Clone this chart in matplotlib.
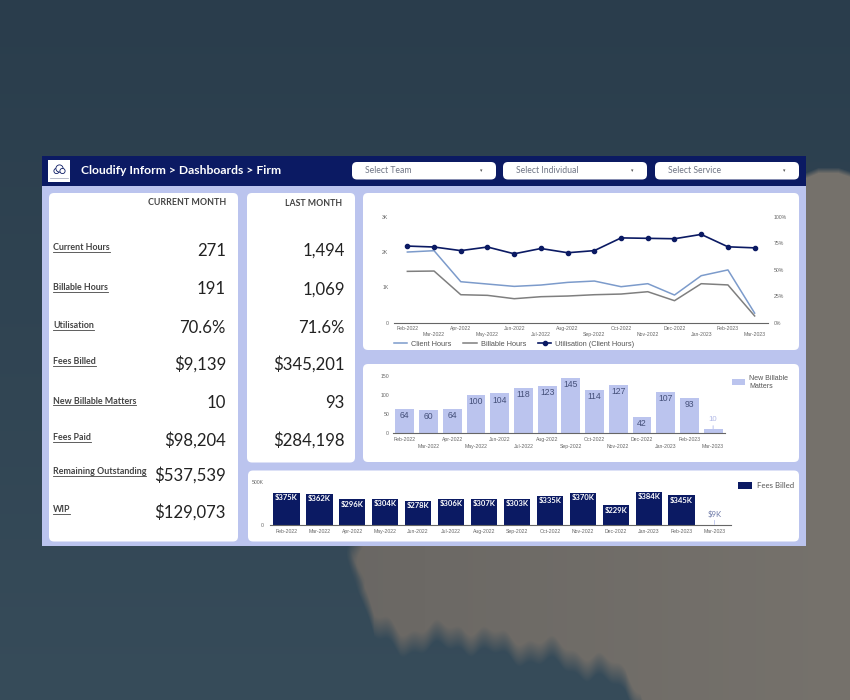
import numpy as np
import matplotlib
matplotlib.use("Agg")
import matplotlib.pyplot as plt
from matplotlib.patches import FancyBboxPatch, Rectangle, Circle

W, H = 850, 700
months = ["Feb-2022","Mar-2022","Apr-2022","May-2022","Jun-2022","Jul-2022","Aug-2022","Sep-2022",
          "Oct-2022","Nov-2022","Dec-2022","Jan-2023","Feb-2023","Mar-2023"]
client_hours = [2000,2038,1160,1094,1028,1066,1141,1179,1019,1104,783,1330,1494,271]
billable_hours = [1453,1462,792,774,679,736,755,792,811,877,623,1104,1069,191]
utilisation = [72.3,71.4,68,71.4,65,70,66,68,80,79.6,79.2,83.3,71.6,70.6]
new_matters = [64,60,64,100,104,118,123,145,114,127,42,107,93,10]
fees_billed = [375,362,296,304,278,306,307,303,335,370,229,384,345,9]
kpi_labels = ["Current Hours","Billable Hours","Utilisation","Fees Billed","New Billable Matters",
              "Fees Paid","Remaining Outstanding","WIP"]
kpi_current = ["271","191","70.6%","$9,139","10","$98,204","$537,539","$129,073"]
kpi_last = ["1,494","1,069","71.6%","$345,201","93","$284,198"]
selectors = ["Select Team","Select Individual","Select Service"]

NAVY = "#0B1A63"; PERI = "#BBC4EE"; GREY = "#7F7F7F"; BLUE = "#7C9BCB"; TXT = "#444444"; TICK = "#666666"

fig = plt.figure(figsize=(8.5, 7), dpi=100)
bg = fig.add_axes([0, 0, 1, 1]); bg.axis("off")

# backdrop: dusk sky with a soft-edged cloud
yy, xx = np.mgrid[0:H, 0:W].astype(float)
t = (yy / H)[..., None]
sky = np.array([0x2A, 0x3D, 0x4C]) * (1 - t) + np.array([0x37, 0x4C, 0x5A]) * t
edge_x = [0, 340, 347, 355, 365, 374, 400, 461, 500, 560, 596, 625, 640, 660, 850]
edge_y = [-50, -50, 547, 565, 600, 627, 640, 636, 645, 655, 667, 680, 700, 770, 790]
edge = np.interp(xx, edge_x, edge_y) + 5 * np.sin(xx / 9) + 3 * np.sin(xx / 3.7)
top_edge = 167 + 5 * np.clip((818 - xx) / 12, 0, 1) + 4 * np.clip((xx - 838) / 12, 0, 1)
cover = (np.clip((edge - yy) / 22 + .5, 0, 1) * np.clip((yy - top_edge) / 6, 0, 1)
         * np.clip((xx - 345 - 4 * np.sin(yy / 7)) / 16, 0, 1))
shade = (xx / W)[..., None]
cloud = np.array([0x62, 0x60, 0x5E]) * (1 - shade) + np.array([0x76, 0x72, 0x6C]) * shade
img = sky * (1 - cover[..., None]) + cloud * cover[..., None]
bg.imshow(img.astype(np.uint8), extent=(0, W, H, 0), aspect="auto", zorder=0)
bg.set_xlim(0, W); bg.set_ylim(H, 0)

def card(x0, y0, x1, y1, color="white", r=5):
    bg.add_patch(FancyBboxPatch((x0 + r, y0 + r), x1 - x0 - 2 * r, y1 - y0 - 2 * r,
                                boxstyle=f"round,pad={r},rounding_size={r}", fc=color, ec="none", zorder=2))

bg.add_patch(Rectangle((42, 156), 764, 390, fc=PERI, ec="none", zorder=1))
bg.add_patch(Rectangle((42, 156), 764, 30, fc=NAVY, ec="none", zorder=1.5))
card(49, 193, 238, 541.5); card(247, 193, 355, 462.5); card(363, 193, 799, 350)
card(363, 364, 799, 462); card(248, 470.5, 799, 541.5)

# header
bg.add_patch(Rectangle((48, 160), 22, 22, fc="white", ec="none", zorder=3))
for cx, cy, r in [(56.5, 171, 2.6), (59.5, 168.5, 3.6), (62.5, 171, 2.6)]:
    bg.add_patch(Circle((cx, cy), r, fc="white", ec=NAVY, lw=.6, zorder=4))
bg.plot([50, 68], [178, 178], color="#9AA0B5", lw=.5, zorder=4)
bg.text(81.5, 171, "Cloudify Inform > Dashboards > Firm", color="white", fontsize=8.7, fontweight="bold",
        family="Lato", va="center", ha="left", zorder=4)
for (x0, x1), s in zip([(352, 496), (503, 647), (655, 799)], selectors):
    card(x0, 162, x1, 179.5, r=5)
    bg.text(x0 + 13, 170.5, s, color="#6F7585", fontsize=6.2, family="Lato", va="center", zorder=4)
    bg.text(x1 - 15, 171, "▾", color="#555555", fontsize=3.5, ha="center", va="center", zorder=4)

# KPI cards
bg.text(226.5, 202.5, "CURRENT MONTH", color=TXT, fontsize=6.4, family="Lato", fontweight="bold", ha="right", va="center", zorder=4)
bg.text(342.5, 203, "LAST MONTH", color=TXT, fontsize=6.3, family="Lato", fontweight="bold", ha="right", va="center", zorder=4)
label_y = [247.5, 288, 326, 361.5, 401, 437.5, 471.5, 510]
val_y = [250.5, 289.5, 328, 364, 402.5, 440, 475.5, 512.5]
label_artists = []
for s, yl, yv, v in zip(kpi_labels, label_y, val_y, kpi_current):
    label_artists.append(bg.text(53, yl, s, color=TXT, fontsize=6.4, family="Lato", fontweight="bold", va="center", ha="left", zorder=4))
    bg.text(226, yv, v, color="#222222", fontsize=12.1, family="Lato", va="center", ha="right", zorder=4)
for yv, v in zip(val_y, kpi_last):
    bg.text(345, yv, v, color="#222222", fontsize=12.1, family="Lato", va="center", ha="right", zorder=4)

fig.canvas.draw()
rend = fig.canvas.get_renderer()
for tx, yl in zip(label_artists, label_y):
    e = tx.get_window_extent(rend)
    bg.plot([e.x0, e.x1], [yl + 4, yl + 4], color=TXT, lw=.6, zorder=4)
bg.set_xlim(0, W); bg.set_ylim(H, 0)

def px_axes(x0, y0, x1, y1):
    a = fig.add_axes([x0 / W, 1 - y1 / H, (x1 - x0) / W, (y1 - y0) / H])
    a.patch.set_alpha(0)
    for s in ["top", "left", "right"]:
        a.spines[s].set_visible(False)
    a.tick_params(length=0)
    a.spines["bottom"].set_color("#666666"); a.spines["bottom"].set_linewidth(.8)
    return a

def tick_style(a, yvals, ylabels, ypad, pads):
    a.set_yticks(yvals); a.set_yticklabels(ylabels, fontsize=3.7, color=TICK, family="Liberation Sans")
    a.tick_params(axis="y", pad=ypad)
    a.set_xticks(np.arange(14))
    a.set_xticklabels(months, fontsize=3.7, color=TICK, family="Liberation Sans")
    for i, tk in enumerate(a.xaxis.get_major_ticks()):
        tk.set_pad(pads[i % 2])

x = np.arange(14)

# line chart
ax = px_axes(394, 216.7, 768, 322.7)
ax.set_xlim(-0.5, 13.5); ax.set_ylim(0, 3000)
l1, = ax.plot(x, client_hours, color=BLUE, lw=1.1, label="Client Hours")
l2, = ax.plot(x, billable_hours, color=GREY, lw=1.1, label="Billable Hours")
tick_style(ax, [0, 1000, 2000, 3000], ["0", "1K", "2K", "3K"], 4, (2.2, 7))
ax2 = ax.twinx()
ax2.patch.set_alpha(0)
for s in ax2.spines.values():
    s.set_visible(False)
ax2.set_ylim(0, 100)
l3, = ax2.plot(x, utilisation, color=NAVY, lw=1.2, marker="o", ms=3, label="Utilisation (Client Hours)")
ax2.set_yticks([0, 25, 50, 75, 100])
ax2.set_yticklabels(["0%", "25%", "50%", "75%", "100%"], fontsize=3.7, color=TICK, family="Liberation Sans")
ax2.tick_params(length=0, axis="y", pad=4)
fig.legend(handles=[l1, l2, l3], loc="center left", bbox_to_anchor=(394 / W, 1 - 344.3 / H),
           ncol=3, frameon=False, prop={"family": "Liberation Sans", "size": 5.3}, labelcolor="#555555",
           handlelength=1.8, handletextpad=.55, columnspacing=1.6, borderpad=0, borderaxespad=0)

# new matters chart
ax = px_axes(393, 376, 725, 433)
ax.set_xlim(-0.5, 13.5); ax.set_ylim(0, 150)
b = ax.bar(x, new_matters, width=.8, color=PERI, label="New Billable\nMatters")
tick_style(ax, [0, 50, 100, 150], ["0", "50", "100", "150"], 2.8, (3.2, 7.6))
for xi, v in zip(x, new_matters):
    if v < 20:
        ax.annotate(str(v), (xi, v), xytext=(0, 4.5), textcoords="offset points", ha="center", va="bottom",
                    fontsize=5.6, color="#B0B8E6", family="Liberation Sans",
                    arrowprops=dict(arrowstyle="-", color=PERI, lw=.7, shrinkA=0, shrinkB=0))
    else:
        ax.annotate(str(v), (xi, v), xytext=(0, -1.5), textcoords="offset points", ha="center", va="top",
                    fontsize=6.2, color="#45507A", family="Liberation Sans")
fig.legend(handles=[b], loc="upper left", bbox_to_anchor=(732 / W, 1 - 374.5 / H), frameon=False,
           prop={"family": "Liberation Sans", "size": 5}, labelcolor="#555555", handlelength=1.9, handleheight=.9,
           handletextpad=.55, borderpad=0, borderaxespad=0, labelspacing=.2)

# fees chart
ax = px_axes(270, 481.7, 731, 525.3)
ax.set_xlim(-0.5, 13.5); ax.set_ylim(0, 500)
b = ax.bar(x, fees_billed, width=.8, color=NAVY, label="Fees Billed")
tick_style(ax, [0, 500], ["0", "500K"], 4.3, (2.8, 2.8))
for xi, v in zip(x, fees_billed):
    if v < 50:
        ax.annotate(f"${v}K", (xi, v), xytext=(0, 5), textcoords="offset points", ha="center", va="bottom",
                    fontsize=5.6, color="#6F7BA8", family="Lato",
                    arrowprops=dict(arrowstyle="-", color=PERI, lw=.6, shrinkA=0, shrinkB=0))
    else:
        ax.annotate(f"${v}K", (xi, v), xytext=(0, -1), textcoords="offset points", ha="center", va="top",
                    fontsize=5.5, color="white", fontweight="bold", family="Lato")
fig.legend(handles=[b], loc="center left", bbox_to_anchor=(738 / W, 1 - 485.7 / H), frameon=False,
           prop={"family": "Lato", "size": 5.6}, labelcolor="#555555", handlelength=1.8, handleheight=.9,
           handletextpad=.6, borderpad=0, borderaxespad=0)

fig.savefig("out.png", dpi=100)
